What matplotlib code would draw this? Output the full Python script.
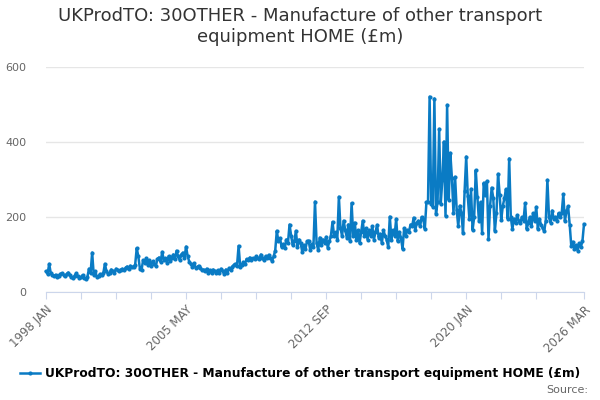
import matplotlib
matplotlib.use("Agg")
import matplotlib.pyplot as plt
import pandas as pd

# monthly values, 1998 JAN .. 2026 MAR (£m)
y1998 = [55, 48, 75, 50, 45, 42, 46, 40, 44, 48, 50, 45]
y1999 = [42, 48, 52, 45, 40, 38, 44, 50, 42, 38, 40, 45]
y2000 = [38, 35, 40, 62, 50, 105, 45, 55, 40, 42, 48, 45]
y2001 = [50, 75, 55, 48, 52, 60, 55, 50, 62, 58, 55, 60]
y2002 = [62, 58, 65, 68, 62, 70, 66, 68, 72, 117, 95, 62]
y2003 = [58, 85, 78, 90, 72, 85, 70, 82, 75, 70, 88, 92]
y2004 = [80, 107, 85, 90, 78, 95, 82, 92, 100, 88, 110, 95]
y2005 = [85, 100, 105, 92, 121, 95, 81, 75, 68, 77, 64, 66]
y2006 = [70, 65, 58, 60, 55, 62, 52, 58, 50, 60, 55, 52]
y2007 = [58, 50, 62, 55, 48, 60, 52, 64, 58, 68, 72, 75]
y2008 = [70, 123, 68, 72, 80, 75, 88, 85, 92, 86, 90, 88]
y2009 = [95, 90, 88, 100, 92, 85, 96, 90, 99, 92, 82, 95]
y2010 = [110, 163, 135, 144, 120, 128, 117, 140, 130, 180, 150, 125]
y2011 = [135, 163, 120, 140, 130, 107, 125, 115, 135, 137, 112, 128]
y2012 = [120, 241, 130, 112, 145, 125, 140, 130, 147, 118, 135, 150]
y2013 = [187, 150, 160, 140, 254, 170, 150, 190, 165, 145, 180, 135]
y2014 = [237, 150, 185, 140, 165, 130, 160, 190, 150, 170, 140, 165]
y2015 = [150, 175, 140, 160, 179, 145, 155, 130, 165, 150, 140, 120]
y2016 = [201, 140, 165, 150, 195, 135, 160, 145, 115, 170, 150, 165]
y2017 = [160, 180, 175, 198, 165, 185, 190, 175, 200, 195, 168, 240]
y2018 = [240, 521, 235, 227, 516, 208, 240, 435, 235, 300, 401, 203]
y2019 = [499, 245, 371, 305, 211, 307, 220, 175, 230, 210, 157, 270]
y2020 = [361, 255, 195, 275, 165, 200, 325, 254, 190, 240, 157, 291]
y2021 = [260, 296, 141, 230, 278, 250, 163, 210, 315, 260, 192, 230]
y2022 = [250, 274, 196, 356, 200, 168, 195, 183, 205, 190, 185, 200]
y2023 = [190, 237, 168, 185, 200, 175, 210, 190, 227, 168, 195, 180]
y2024 = [170, 163, 190, 299, 200, 185, 217, 195, 200, 190, 210, 200]
y2025 = [210, 261, 189, 215, 229, 180, 123, 134, 115, 125, 110, 130]
y2026 = [120, 135, 181]

values = (y1998 + y1999 + y2000 + y2001 + y2002 + y2003 + y2004 + y2005
          + y2006 + y2007 + y2008 + y2009 + y2010 + y2011 + y2012 + y2013
          + y2014 + y2015 + y2016 + y2017 + y2018 + y2019 + y2020 + y2021
          + y2022 + y2023 + y2024 + y2025 + y2026)
months = pd.date_range("1998-01-01", periods=len(values), freq="MS")
labels = [d.strftime("%Y %b").upper() for d in months]

title = "UKProdTO: 30OTHER - Manufacture of other transport\nequipment HOME (£m)"
series_name = "UKProdTO: 30OTHER - Manufacture of other transport equipment HOME (£m)"

blue = "#0a7bc4"
grid = "#e6e6e6"
axis_c = "#ccd6eb"
txt = "#666666"

fig = plt.figure(figsize=(6, 4), dpi=100)
ax = fig.add_axes([46 / 600, 1 - 292 / 400, 538 / 600, 225 / 400])

x = list(range(len(values)))
line, = ax.plot(x, values, color=blue, lw=1.8, marker="o", markersize=3,
                markeredgewidth=0, clip_on=False, zorder=3)

ax.set_xlim(0, len(values) - 1)
ax.set_ylim(0, 600)
ax.set_yticks([0, 200, 400, 600])
ax.yaxis.grid(True, color=grid, lw=1)
ax.set_axisbelow(True)

ticks = list(range(0, 309, 22)) + [len(values) - 1]
shown = {0, 88, 176, 264, len(values) - 1}
ax.set_xticks(ticks)
ax.set_xticklabels([labels[t] if t in shown else "" for t in ticks],
                   rotation=45, ha="right", rotation_mode="anchor")

for s in ["top", "right", "left"]:
    ax.spines[s].set_visible(False)
ax.spines["bottom"].set_color(axis_c)
ax.tick_params(axis="y", length=0, pad=14, labelsize=8, labelcolor=txt)
ax.tick_params(axis="x", length=5, color=axis_c, pad=3, labelsize=8.5,
               labelcolor=txt)

fig.text(0.5, 0.982, title, ha="center", va="top", fontsize=13,
         color="#333333", linespacing=1.2)

fig.legend([line], [series_name], loc="center", bbox_to_anchor=(0.5, 0.065),
           frameon=False, handlelength=1.6, handletextpad=0.4,
           prop={"weight": "bold", "size": 8.85})
fig.text(0.98, 0.025, "Source:", ha="right", va="center", fontsize=8,
         color=txt)

fig.savefig("out.png", dpi=100)
